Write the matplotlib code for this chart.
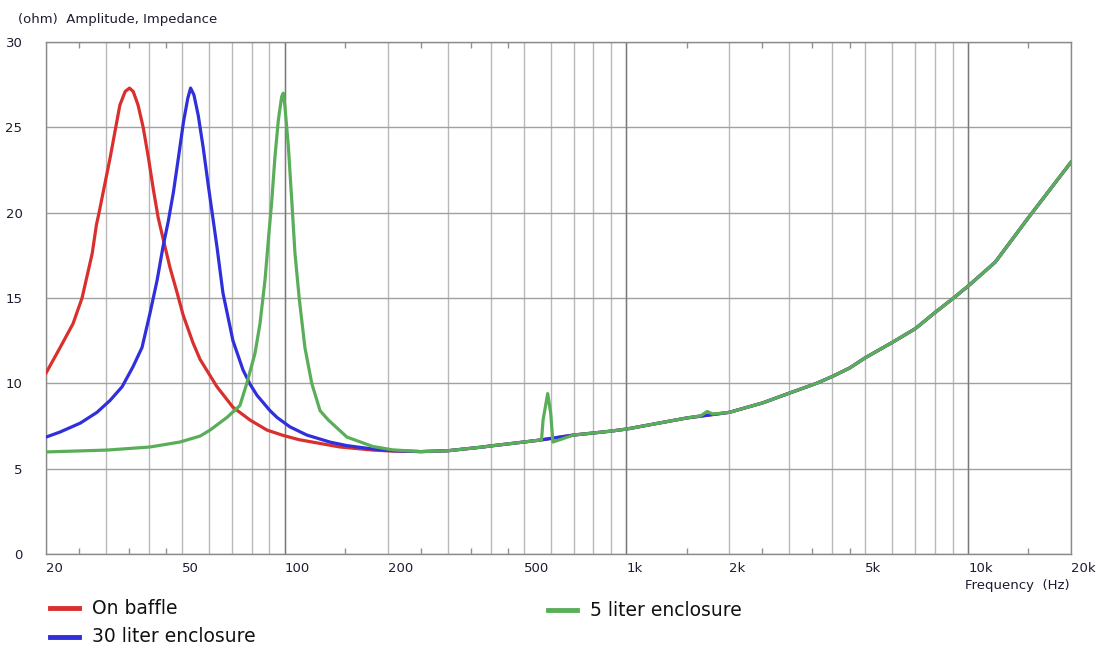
#impedance curves of one driver: open baffle vs two closed boxes
import numpy as np
import matplotlib.pyplot as plt
from matplotlib.lines import Line2D

#low frequency part of each curve (Hz, ohm)
red_f = [20, 22.0, 24.0, 25.5, 27.3, 28.1, 28.6, 29.4, 30.8, 31.8, 32.9, 34.1,
         35.1, 36.0, 37.2, 38.5, 39.9, 41.2, 42.6, 44.0, 46.1, 48.4, 50.4,
         53.8, 56.5, 63.3, 70.5, 79.1, 88.7, 98.8, 110, 125, 145, 181, 207]
red_z = [10.6, 12.1, 13.5, 15.0, 17.6, 19.3, 20.0, 21.2, 23.2, 24.7, 26.3, 27.1,
         27.3, 27.1, 26.3, 25.0, 23.2, 21.4, 19.7, 18.5, 16.8, 15.3, 14.0,
         12.4, 11.4, 9.8, 8.6, 7.85, 7.26, 6.95, 6.7, 6.5, 6.27, 6.09, 6.03]

blue_f = [20, 22.0, 25.2, 28.2, 30.8, 33.4, 35.9, 38.2, 40.3, 42.3, 44.0, 45.6,
          47.2, 48.8, 50.5, 52.0, 53.0, 54.2, 55.8, 57.7, 59.7, 63.3, 65.9,
          70.5, 75.4, 79.1, 82.9, 90.5, 94.9, 103.5, 116, 136, 152, 181, 207]
blue_z = [6.85, 7.15, 7.67, 8.3, 9.0, 9.8, 10.95, 12.1, 14.1, 16.05, 18.0, 19.5,
          21.2, 23.2, 25.3, 26.7, 27.3, 26.9, 25.7, 23.8, 21.6, 18.0, 15.3,
          12.5, 10.8, 9.95, 9.3, 8.4, 8.0, 7.45, 6.97, 6.55, 6.35, 6.15, 6.05]

green_f = [20, 30.2, 40.3, 49.3, 56.5, 60.4, 67.7, 73.9, 77.4, 81.8, 84.6, 87.5,
           89.5, 91.6, 93.6, 95.7, 97.9, 99.0, 100.1, 102.4, 104.8, 107.1, 110.3,
           114.5, 119.9, 126.8, 134.1, 152, 181, 207]
green_z = [5.98, 6.09, 6.27, 6.56, 6.91, 7.26, 8.0, 8.7, 10.0, 11.76, 13.5, 16.05,
           18.4, 20.7, 23.3, 25.4, 26.8, 27.0, 26.2, 23.9, 20.7, 17.6, 14.9,
           12.1, 10.0, 8.4, 7.85, 6.85, 6.3, 6.1]

#above ~250 Hz the three curves are on top of each other
common_f = [250, 300, 380, 400, 500, 560, 700, 800, 900, 1000, 1500, 2000, 2500,
            3000, 3600, 4000, 4500, 5000, 6000, 7000, 8000, 9000, 10000, 12000,
            15000, 20000]
common_z = [6.0, 6.05, 6.27, 6.33, 6.56, 6.68, 6.97, 7.09, 7.2, 7.32, 7.97, 8.3,
            8.85, 9.43, 10.0, 10.4, 10.9, 11.5, 12.4, 13.2, 14.15, 14.95, 15.7,
            17.1, 19.7, 22.96]

#box resonances only in the small box curve
spike_f = [564, 570, 588, 600, 609, 1650, 1722, 1790]
spike_z = [6.68, 7.85, 9.4, 8.26, 6.56, 8.1, 8.35, 8.2]

names = ["On baffle", "30 liter enclosure", "5 liter enclosure"]
colors = ["#d9302e", "#2f2fdc", "#5aae5a"]

xlabels = {20: "20", 50: "50", 100: "100", 200: "200", 500: "500",
           1000: "1k", 2000: "2k", 5000: "5k", 10000: "10k", 20000: "20k"}


def join(f, z, extra_f=(), extra_z=()):
    ff = list(f) + list(common_f) + list(extra_f)
    zz = list(z) + list(common_z) + list(extra_z)
    order = np.argsort(ff)
    return np.array(ff)[order], np.array(zz)[order]


fig = plt.figure(figsize=(11.02, 6.5), dpi=100)
ax = fig.add_axes([46/1102, 1-554/650, (1071-46)/1102, (554-42)/650])

txtcol = "#1c1c30"

#grid lines at every 1..9 step of each decade
grid_f = []
for dec in [10, 100, 1000, 10000]:
    for m in range(1, 10):
        if 20 <= dec*m <= 20000:
            grid_f.append(dec*m)
ax.set_xscale("log")
ax.set_xlim(20, 20000)
ax.set_ylim(0, 30)
ax.set_xticks(grid_f)
ax.set_xticklabels([xlabels.get(f, "") for f in grid_f])
for lab in ax.get_xticklabels():
    lab.set_horizontalalignment("left")
ax.set_xticks([25, 35, 45, 150, 250, 350, 450, 1500, 2500, 3500, 4500, 15000], minor=True)
ax.xaxis.set_minor_formatter(plt.NullFormatter())
ax.tick_params(axis="x", which="major", length=0, pad=6, labelsize=9.5, labelcolor=txtcol)
ax.tick_params(axis="x", which="minor", length=4, direction="in", top=True,
               bottom=True, color="#909090", width=1)
ax.set_yticks([0, 5, 10, 15, 20, 25, 30])
ax.tick_params(axis="y", length=0, pad=17, labelsize=9.5, labelcolor=txtcol)
ax.grid(True, axis="x", which="major", color="#b8b8b8", lw=1)
ax.grid(True, axis="y", color="#a0a0a0", lw=1)
for f in [100, 1000, 10000]:
    ax.axvline(f, color="#7a7a7a", lw=1, zorder=1)
for s in ax.spines.values():
    s.set_color("#8a8a8a")
    s.set_linewidth(1)
ax.set_axisbelow(True)

x, y = join(red_f, red_z)
ax.plot(x, y, color=colors[0], lw=2.3, zorder=3)
x, y = join(blue_f, blue_z)
ax.plot(x, y, color=colors[1], lw=2.3, zorder=4)
x, y = join(green_f, green_z, spike_f, spike_z)
ax.plot(x, y, color=colors[2], lw=2.3, zorder=5)

fig.text(18/1102, 1-20/650, "(ohm)  Amplitude, Impedance", fontsize=9.5,
         color=txtcol, va="center", ha="left")
fig.text(1070/1102, 1-585/650, "Frequency  (Hz)", fontsize=9.5,
         color=txtcol, va="center", ha="right")

#legend below the plot, two rows left and one on the right
leg_pos = [(50, 608), (50, 637), (548, 610)]
for (px, py), name, c in zip(leg_pos, names, colors):
    fig.add_artist(Line2D([px/1102, (px+29)/1102], [1-py/650, 1-py/650],
                          color=c, lw=3.5, transform=fig.transFigure))
    fig.text((px+42)/1102, 1-py/650, name, fontsize=13.5, color="#111111",
             va="center", ha="left")

fig.savefig("out.png", dpi=100, facecolor="white")
